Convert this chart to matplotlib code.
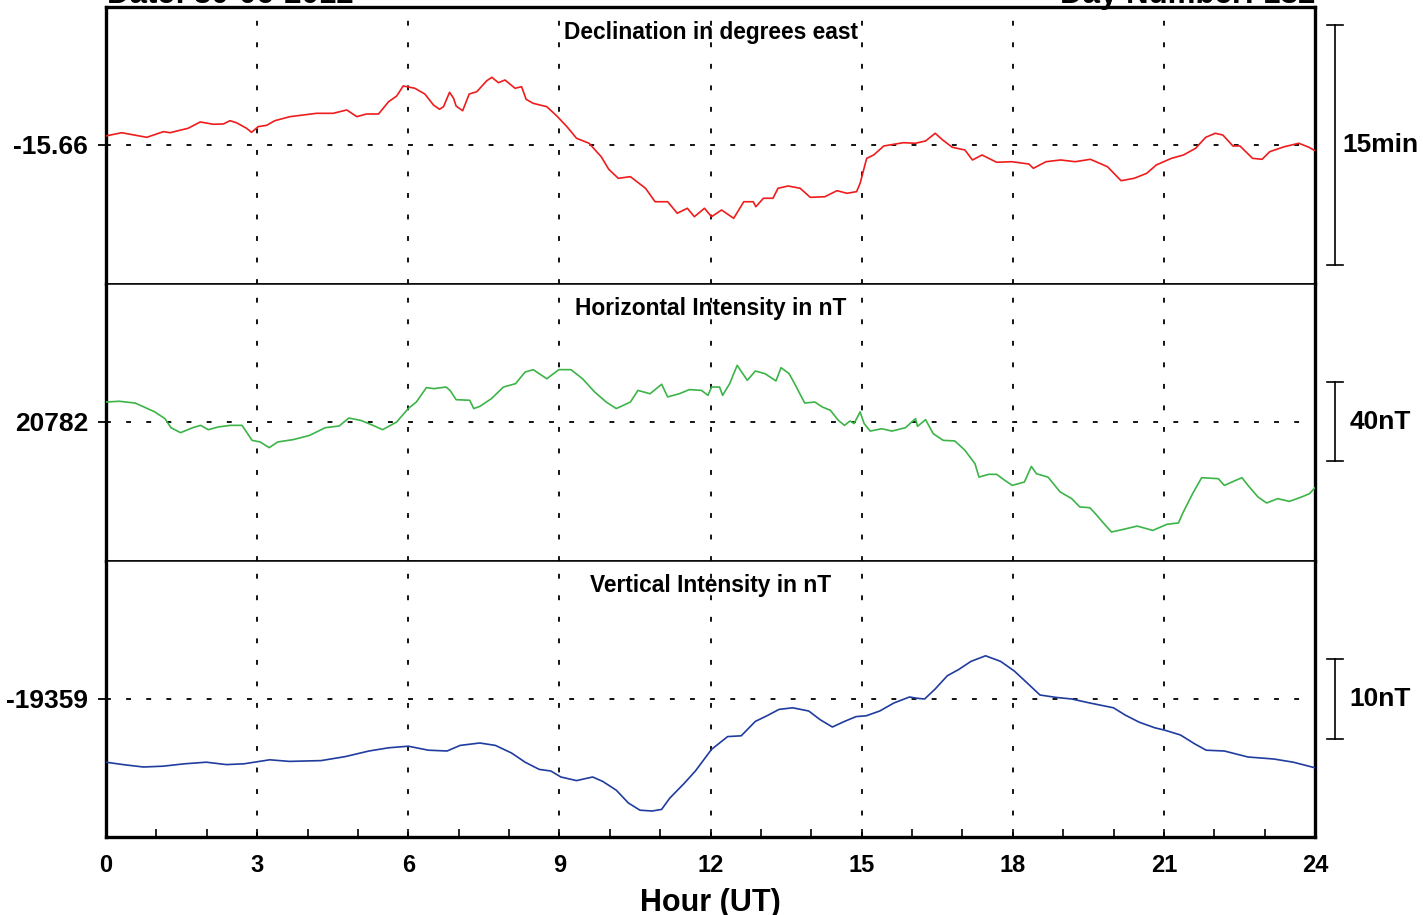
import matplotlib
matplotlib.use("Agg")
import matplotlib.pyplot as plt
import matplotlib.transforms as mtransforms

plt.rcParams['font.family'] = ['Liberation Sans', 'DejaVu Sans']
plt.rcParams['font.weight'] = 'bold'
plt.rcParams['lines.scale_dashes'] = False

# Declination (degrees east)
dec_hours = [0.00, 0.31, 0.81, 1.14, 1.27, 1.63, 1.87, 2.13, 2.33, 2.46, 2.59, 2.79, 2.89, 3.02, 3.19,
             3.35, 3.65, 4.18, 4.51, 4.78, 4.98, 5.17, 5.41, 5.61, 5.77, 5.90, 6.13, 6.33, 6.50, 6.62,
             6.70, 6.82, 6.90, 6.95, 7.08, 7.21, 7.36, 7.56, 7.66, 7.79, 7.92, 8.12, 8.25, 8.34, 8.48,
             8.75, 8.95, 9.15, 9.34, 9.59, 9.83, 9.98, 10.17, 10.41, 10.71, 10.90, 11.15, 11.34, 11.54,
             11.68, 11.88, 12.02, 12.22, 12.46, 12.66, 12.85, 12.90, 13.05, 13.24, 13.34, 13.54, 13.78,
             13.98, 14.27, 14.51, 14.71, 14.90, 14.97, 15.10, 15.24, 15.44, 15.83, 16.07, 16.27, 16.46,
             16.61, 16.80, 17.05, 17.20, 17.39, 17.68, 17.98, 18.32, 18.41, 18.66, 18.95, 19.24, 19.54,
             19.88, 20.15, 20.41, 20.66, 20.85, 21.15, 21.39, 21.63, 21.83, 22.02, 22.17, 22.37, 22.51,
             22.76, 22.95, 23.10, 23.39, 23.68, 23.88, 24.00]
dec_values = [-15.6506, -15.6472, -15.6520, -15.6461, -15.6472, -15.6426, -15.6360, -15.6384, -15.6381,
              -15.6347, -15.6368, -15.6426, -15.6468, -15.6409, -15.6395, -15.6347, -15.6305, -15.6270,
              -15.6270, -15.6235, -15.6305, -15.6277, -15.6277, -15.6149, -15.6090, -15.5985, -15.6009,
              -15.6069, -15.6183, -15.6228, -15.6201, -15.6051, -15.6114, -15.6194, -15.6243, -15.6069,
              -15.6045, -15.5930, -15.5895, -15.5951, -15.5923, -15.6009, -15.5993, -15.6124, -15.6166,
              -15.6201, -15.6298, -15.6409, -15.6530, -15.6582, -15.6722, -15.6853, -15.6947, -15.6930,
              -15.7051, -15.7191, -15.7191, -15.7311, -15.7259, -15.7347, -15.7259, -15.7347, -15.7277,
              -15.7364, -15.7191, -15.7191, -15.7243, -15.7155, -15.7155, -15.7051, -15.7027, -15.7051,
              -15.7145, -15.7139, -15.7076, -15.7103, -15.7086, -15.6999, -15.6739, -15.6704, -15.6610,
              -15.6576, -15.6582, -15.6558, -15.6478, -15.6548, -15.6624, -15.6652, -15.6756, -15.6704,
              -15.6780, -15.6774, -15.6798, -15.6843, -15.6774, -15.6756, -15.6774, -15.6749, -15.6826,
              -15.6972, -15.6947, -15.6895, -15.6808, -15.6739, -15.6704, -15.6634, -15.6520, -15.6478,
              -15.6496, -15.6610, -15.6610, -15.6739, -15.6749, -15.6670, -15.6618, -15.6582, -15.6624,
              -15.6659]

# Horizontal intensity (nT)
h_hours = [0.00, 0.26, 0.58, 0.78, 0.97, 1.17, 1.29, 1.48, 1.72, 1.88, 2.03, 2.23, 2.47, 2.70, 2.90,
           3.06, 3.24, 3.41, 3.72, 4.04, 4.35, 4.63, 4.82, 5.06, 5.30, 5.49, 5.77, 6.00, 6.16, 6.36,
           6.51, 6.75, 6.83, 6.95, 7.22, 7.30, 7.42, 7.65, 7.89, 8.13, 8.32, 8.48, 8.75, 8.99, 9.23,
           9.46, 9.70, 9.93, 10.13, 10.41, 10.56, 10.80, 11.03, 11.15, 11.38, 11.58, 11.82, 11.95,
           12.02, 12.18, 12.24, 12.38, 12.53, 12.73, 12.89, 13.08, 13.30, 13.40, 13.56, 13.67, 13.87,
           14.07, 14.22, 14.38, 14.54, 14.66, 14.77, 14.85, 14.97, 15.05, 15.17, 15.40, 15.60, 15.87,
           16.07, 16.11, 16.27, 16.42, 16.62, 16.85, 17.05, 17.25, 17.33, 17.52, 17.68, 17.84, 17.99,
           18.23, 18.37, 18.47, 18.70, 18.94, 19.17, 19.33, 19.53, 19.64, 19.84, 19.96, 20.19, 20.47,
           20.78, 21.06, 21.29, 21.37, 21.57, 21.75, 22.08, 22.20, 22.35, 22.55, 22.67, 22.87, 23.04,
           23.26, 23.49, 23.73, 23.89, 24.00]
h_values = [20792.1, 20792.5, 20791.6, 20789.3, 20787.1, 20783.7, 20779.1, 20776.6, 20779.1, 20780.3,
            20778.1, 20779.5, 20780.3, 20780.3, 20772.7, 20771.9, 20769.0, 20771.9, 20773.1, 20775.2,
            20779.1, 20780.0, 20784.0, 20782.8, 20780.3, 20778.1, 20782.0, 20788.8, 20792.1, 20799.4,
            20798.9, 20799.7, 20798.0, 20793.3, 20793.0, 20788.8, 20789.9, 20793.8, 20799.7, 20801.4,
            20807.3, 20808.5, 20803.9, 20808.5, 20808.5, 20803.9, 20797.2, 20792.1, 20788.8, 20792.1,
            20798.0, 20796.3, 20801.1, 20794.7, 20796.3, 20798.4, 20798.0, 20795.5, 20799.7, 20799.7,
            20795.5, 20801.4, 20810.7, 20803.1, 20807.8, 20806.5, 20802.8, 20809.5, 20806.5, 20801.4,
            20791.6, 20792.1, 20789.6, 20787.9, 20782.8, 20780.3, 20782.5, 20781.2, 20787.1, 20781.2,
            20777.4, 20778.6, 20777.4, 20779.1, 20783.7, 20779.8, 20783.2, 20776.1, 20772.7, 20772.4,
            20767.7, 20760.9, 20754.1, 20755.5, 20755.5, 20752.5, 20749.9, 20751.6, 20759.5, 20755.8,
            20754.1, 20746.6, 20743.2, 20739.0, 20738.6, 20735.6, 20729.7, 20726.3, 20727.6, 20729.3,
            20727.1, 20730.2, 20730.9, 20735.6, 20745.7, 20753.8, 20753.3, 20749.9, 20751.6, 20753.8,
            20749.9, 20744.0, 20741.0, 20743.2, 20741.8, 20744.0, 20745.7, 20748.7]

# Vertical intensity (nT)
z_hours = [0.00, 0.34, 0.74, 1.13, 1.56, 1.99, 2.39, 2.74, 3.25, 3.64, 4.27, 4.75, 5.22, 5.61, 6.00,
           6.40, 6.77, 7.03, 7.42, 7.73, 8.05, 8.32, 8.60, 8.83, 9.03, 9.34, 9.66, 9.86, 10.13, 10.37,
           10.60, 10.84, 11.03, 11.19, 11.47, 11.70, 12.02, 12.34, 12.61, 12.89, 13.12, 13.36, 13.63,
           13.95, 14.18, 14.42, 14.66, 14.89, 15.09, 15.36, 15.64, 15.95, 16.09, 16.25, 16.46, 16.70,
           16.93, 17.17, 17.46, 17.76, 18.03, 18.27, 18.54, 18.86, 19.17, 19.53, 20.00, 20.23, 20.51,
           20.82, 21.02, 21.33, 21.61, 21.84, 22.20, 22.67, 23.18, 23.57, 24.00]
z_values = [-19366.9, -19367.2, -19367.5, -19367.4, -19367.1, -19366.9, -19367.2, -19367.1, -19366.6,
            -19366.8, -19366.7, -19366.2, -19365.5, -19365.1, -19364.9, -19365.4, -19365.5, -19364.8,
            -19364.5, -19364.8, -19365.75, -19366.9, -19367.8, -19368.0, -19368.75, -19369.2, -19368.75,
            -19369.3, -19370.4, -19372.0, -19372.9, -19373.0, -19372.8, -19371.4, -19369.6, -19368.0,
            -19365.3, -19363.7, -19363.6, -19361.8, -19361.1, -19360.3, -19360.1, -19360.5, -19361.6,
            -19362.5, -19361.8, -19361.2, -19361.1, -19360.5, -19359.5, -19358.75, -19358.9, -19359.0,
            -19357.75, -19356.1, -19355.3, -19354.3, -19353.6, -19354.3, -19355.5, -19356.9, -19358.5,
            -19358.8, -19359.0, -19359.5, -19360.1, -19361.0, -19361.9, -19362.6, -19362.9, -19363.5,
            -19364.6, -19365.4, -19365.5, -19366.25, -19366.5, -19366.9, -19367.6]

titles = ["Declination in degrees east", "Horizontal Intensity in nT", "Vertical Intensity in nT"]
ref_values = [-15.66, 20782, -19359]
ref_labels = ["-15.66", "20782", "-19359"]
ylims = [(-15.8048, -15.51625), (20711.62, 20851.87), (-19376.25, -19341.75)]
scale_half = [0.125, 20, 5]
scale_labels = ["15min", "40nT", "10nT"]
colors = ["#ee1c1c", "#3cb448", "#1f3c9e"]
hour_ticks = list(range(0, 25, 3))

fig = plt.figure(figsize=(14.23, 9.15), dpi=100)
left, width = 106 / 1423, 1209 / 1423
tops = [7, 284, 561]
bots = [284, 561, 837]
series = [(dec_hours, dec_values), (h_hours, h_values), (z_hours, z_values)]

for i in range(3):
    b = 1 - bots[i] / 915
    h = (bots[i] - tops[i]) / 915
    ax = fig.add_axes([left, b, width, h])
    x, y = series[i]
    ax.plot(x, y, color=colors[i], lw=1.2, zorder=3)
    ax.set_xlim(0, 24)
    ax.set_ylim(*ylims[i])

    for hh in range(3, 24, 3):
        ax.axvline(hh, color="black", lw=1.3, linestyle=(0, (3.5, 12)), zorder=1)
    ax.axhline(ref_values[i], color="black", lw=1.3, linestyle=(0, (3.5, 11)), zorder=1)

    ax.set_yticks([ref_values[i]])
    ax.set_yticklabels([ref_labels[i]], fontsize=19, fontweight="bold")
    ax.tick_params(axis="y", direction="out", length=6, width=1.3, pad=7)

    ax.text(0.5, 1 - 25 / 277, titles[i], transform=ax.transAxes, ha="center", va="center",
            fontsize=16.4, fontweight="bold", zorder=4)

    for side in ["left", "right"]:
        ax.spines[side].set_linewidth(2.4)
    ax.spines["top"].set_linewidth(2.4 if i == 0 else 1.1)
    ax.spines["bottom"].set_linewidth(2.4 if i == 2 else 1.1)

    # scale bar on the right
    trans = mtransforms.blended_transform_factory(ax.transAxes, ax.transData)
    r0, r1 = ref_values[i] - scale_half[i], ref_values[i] + scale_half[i]
    ax.plot([1.0165, 1.0165], [r0, r1], color="black", lw=1.2, transform=trans, clip_on=False)
    for yy in (r0, r1):
        ax.plot([1.0099, 1.0232], [yy, yy], color="black", lw=1.2, transform=trans, clip_on=False)
    ax.text(1.0538, ref_values[i], scale_labels[i], transform=trans, ha="center", va="center",
            fontsize=19, fontweight="bold")

    if i < 2:
        ax.set_xticks([])
    else:
        ax.set_xticks(hour_ticks)
        ax.set_xticklabels([str(t) for t in hour_ticks], fontsize=17, fontweight="bold")
        ax.set_xticks(range(0, 25), minor=True)
        ax.tick_params(axis="x", which="both", direction="in", length=6, width=1.2, pad=12)
        ax.set_xlabel("Hour (UT)", fontsize=22, fontweight="bold", labelpad=8)

fig.text(107 / 1423, 1 - 3 / 915, "Date: 30-06-2012", ha="left", va="baseline",
         fontsize=22.5, fontweight="bold")
fig.text(1315 / 1423, 1 - 3 / 915, "Day Number: 182", ha="right", va="baseline",
         fontsize=22.5, fontweight="bold")

fig.savefig("out.png", dpi=100)
